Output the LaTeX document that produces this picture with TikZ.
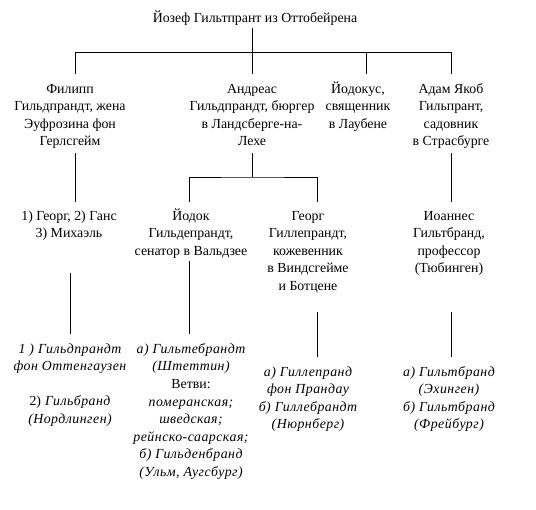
\documentclass[tikz,border=0pt]{standalone}
\usepackage{fontspec}
\setmainfont{Liberation Serif}[ItalicFeatures={LetterSpace=3.5}]
\usetikzlibrary{calc}
\newcommand{\famfont}{\fontsize{13.9}{17.6}\selectfont}
\tikzset{
  person/.style={align=center, inner sep=0pt, anchor=base, font=\famfont},
  branch/.style={person, font=\famfont\itshape},
  nrows/.style={yshift={-(#1-1)*17.6bp}},
  link/.style={draw=black, line width=0.8pt},
}

\begin{document}
\begin{tikzpicture}[x=1bp, y=-1bp]
        \useasboundingbox (0,0) rectangle (536,510);

        % founder
        \node[person] (title) at (255,23) {Йозеф Гильтпрант из Оттобейрена};
        \coordinate (T) at (252,28);
        \coordinate (Tj) at (252,52);
        \coordinate (Tl) at (75,52);
        \coordinate (Tr) at (451,52);

        % first generation
        \node[person, nrows=4] (phil) at (70,93) {Филипп\\Гильдпрандт, жена\\Эуфрозина фон\\Герлсгейм};
        \node[person, nrows=4] (andr) at (252,93) {Андреас\\Гильдпрандт, бюргер\\в Ландсберге-на-\\Лехе};
        \node[person, nrows=3] (jod) at (358,93) {Йодокус,\\священник\\в Лаубене};
        \node[person, nrows=4] (adam) at (451,93) {Адам Якоб\\Гильпрант,\\садовник\\в Страсбурге};

        \coordinate (philT) at (75,74);
        \coordinate (andrT) at (252,74);
        \coordinate (jodT) at (366,74);
        \coordinate (adamT) at (451,74);

        \draw[link] (T) -- (Tj);
        \draw[link] (Tl) -- (Tr);
        \draw[link] (Tl) -- (philT);
        \draw[link] (Tj) -- (andrT);
        \draw[link] (jodT |- Tl) -- (jodT);
        \draw[link] (Tr) -- (adamT);

        % second generation
        \node[person, nrows=2] (phkids) at (69,220) {1) Георг, 2) Ганс\\3) Михаэль};
        \node[person, nrows=3] (jodok) at (191,220) {Йодок\\Гильдепрандт,\\сенатор в Вальдзее};
        \node[person, nrows=5] (georg) at (308,220) {Георг\\Гиллепрандт,\\кожевенник\\в Виндсгейме\\и Ботцене};
        \node[person, nrows=4] (ioann) at (449,220) {Иоаннес\\Гильтбранд,\\профессор\\(Тюбинген)};

        \coordinate (philB) at (75,153);
        \coordinate (phkidsT) at (75,202);
        \coordinate (andrB) at (252,153);
        \coordinate (andrJ) at (252,177);
        \coordinate (jodokT) at (189,202);
        \coordinate (georgT) at (317,202);
        \coordinate (adamB) at (451,153);
        \coordinate (ioannT) at (451,202);

        \draw[link] (philB) -- (phkidsT);
        \draw[link] (andrB) -- (andrJ);
        \draw[link] (jodokT) |- (andrJ) -| (georgT);
        \draw[link] (adamB) -- (ioannT);

        % third generation
        \node[branch, nrows=5] (br1) at (70,353) {1 ) Гильдпрандт\\фон Оттенгаузен\\[17.6bp]{\upshape 2)} Гильбранд\\(Нордлинген)};
        \node[branch, nrows=8] (br2) at (191,353) {а) Гильтебрандт\\(Штеттин)\\{\upshape Ветви:}\\померанская;\\шведская;\\рейнско-саарская;\\б) Гильденбранд\\(Ульм, Аугсбург)};
        \node[branch, nrows=4] (br3) at (308,376) {а) Гиллепранд\\фон Прандау\\б) Гиллебрандт\\(Нюрнберг)};
        \node[branch, nrows=4] (br4) at (449,376) {а) Гильтбранд\\(Эхинген)\\б) Гильтбранд\\(Фрейбург)};

        \coordinate (phkidsB) at (70,273);
        \coordinate (br1T) at (70,334);
        \coordinate (jodokB) at (189,261);
        \coordinate (br2T) at (189,334);
        \coordinate (georgB) at (317,312);
        \coordinate (br3T) at (317,357);
        \coordinate (ioannB) at (451,312);
        \coordinate (br4T) at (451,357);

        \draw[link] (phkidsB) -- (br1T);
        \draw[link] (jodokB) -- (br2T);
        \draw[link] (georgB) -- (br3T);
        \draw[link] (ioannB) -- (br4T);

\end{tikzpicture}
\end{document}
